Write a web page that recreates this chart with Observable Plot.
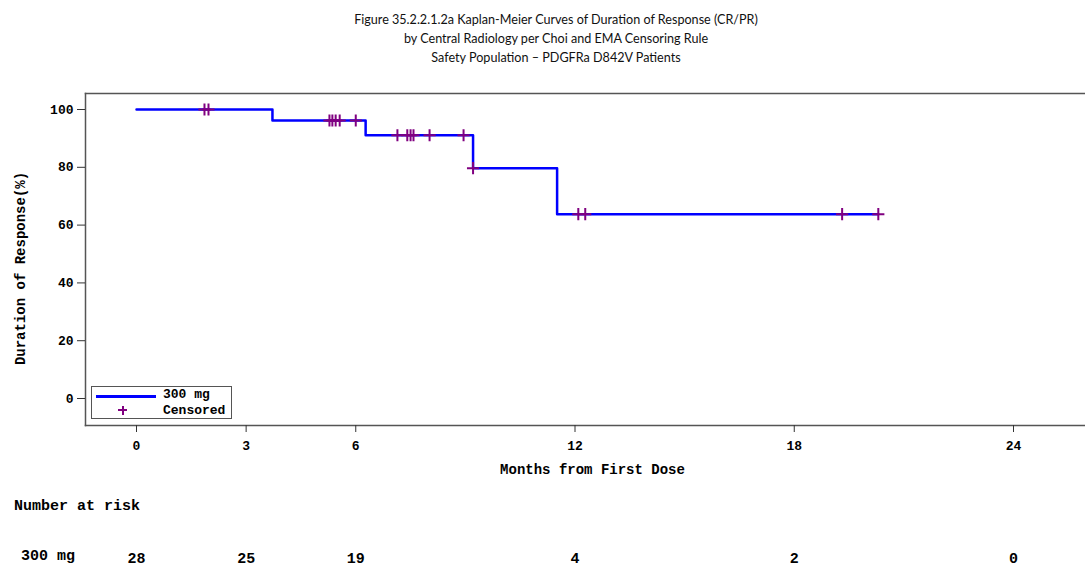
<!DOCTYPE html>
<html>
<head>
<meta charset="utf-8">
<script src="https://cdn.jsdelivr.net/npm/d3@7"></script>
<script src="https://cdn.jsdelivr.net/npm/@observablehq/plot@0.6"></script>
<style>
  body { margin: 0; background: #fff; width: 1085px; height: 567px; position: relative; }
  #title { height: 75px; box-sizing: border-box; padding-top: 9.5px; padding-left: 27px; text-align: center;
           font-family: Lato, "Open Sans", sans-serif; font-size: 12.6px; line-height: 19px; color: #111; }
  #chart svg { display: block; }
  .mono { font-family: "Liberation Mono", "DejaVu Sans Mono", monospace; font-weight: bold; color: #000; }
  #legend { position: absolute; left: 91px; top: 386px; width: 141px; height: 33px; box-sizing: border-box;
            border: 1px solid #555; background: #fff; font-size: 13px; line-height: 15px; }
  #legend .swatch { position: absolute; left: 4px; top: 7.5px; width: 60px; height: 3px; background: #0000ff; }
  #legend .plus { position: absolute; left: 26px; top: 18.5px; width: 9px; height: 9px;
                  background: linear-gradient(#800080, #800080) center / 2px 100% no-repeat,
                              linear-gradient(#800080, #800080) center / 100% 2px no-repeat; }
  #legend .t1 { position: absolute; left: 71px; top: 0px; }
  #legend .t2 { position: absolute; left: 71px; top: 15.5px; }
  #riskHead { position: absolute; left: 14px; top: 498px; font-size: 15px; line-height: 17px; }
  #riskRow { position: absolute; left: 21px; top: 550px; font-size: 15px; line-height: 14px; }
</style>
</head>
<body>
<div id="title"></div>
<div id="chart"></div>
<div id="legend" class="mono"><div class="swatch"></div><div class="plus"></div><div class="t1"></div><div class="t2"></div></div>
<div id="riskHead" class="mono"></div>
<div id="riskRow" class="mono"></div>
<script>
// Titles and labels
const titleLines = [
  "Figure 35.2.2.1.2a Kaplan-Meier Curves of Duration of Response (CR/PR)",
  "by Central Radiology per Choi and EMA Censoring Rule",
  "Safety Population \u2013 PDGFRa D842V Patients"
];
const seriesName = "300 mg";
const censorName = "Censored";
const xLabel = "Months from First Dose";
const yLabel = "Duration of Response(%)";
const riskTitle = "Number at risk";

// Kaplan-Meier step curve (months, % still in response)
const stepMonths   = [0, 3.72, 6.27, 9.21, 11.51, 20.30];
const stepSurvival = [100, 96.2, 91.1, 79.7, 63.8, 63.8];

// Censored observations
const censorMonths   = [1.86, 1.97, 5.28, 5.36, 5.45, 5.56, 6.00, 7.14, 7.41, 7.50, 7.58, 8.02, 8.95, 9.21, 12.09, 12.28, 19.31, 20.30];
const censorSurvival = [100, 100, 96.2, 96.2, 96.2, 96.2, 96.2, 91.1, 91.1, 91.1, 91.1, 91.1, 91.1, 79.7, 63.8, 63.8, 63.8, 63.8];

// Number at risk table
const riskMonths = [0, 3, 6, 12, 18, 24];
const riskCounts = [28, 25, 19, 4, 2, 0];

// Axis ticks
const xTicks = [0, 3, 6, 12, 18, 24];
const yTicks = [0, 20, 40, 60, 80, 100];

document.getElementById("title").innerHTML = titleLines.map(t => `<div>${t}</div>`).join("");
document.querySelector("#legend .t1").textContent = seriesName;
document.querySelector("#legend .t2").textContent = censorName;
document.getElementById("riskHead").textContent = riskTitle;
document.getElementById("riskRow").textContent = seriesName;

const curve = stepMonths.map((m, i) => ({month: m, survival: stepSurvival[i]}));
const censored = censorMonths.map((m, i) => ({month: m, survival: censorSurvival[i]}));
const atRisk = riskMonths.map((m, i) => ({month: m, n: riskCounts[i]}));

const frameStyle = {stroke: "#555", strokeWidth: 1.5};

const chart = Plot.plot({
  width: 1085,
  height: 492,
  marginTop: 18,
  marginBottom: 142,
  marginLeft: 85,
  marginRight: 0,
  style: {fontFamily: "'Liberation Mono', 'DejaVu Sans Mono', monospace", fontSize: "13px", fontWeight: "bold", color: "#000", background: "#fff", overflow: "visible"},
  x: {domain: [-1.396, 25.97]},
  y: {domain: [-9.34, 105.54]},
  marks: [
    Plot.frame({anchor: "top", ...frameStyle}),
    Plot.frame({anchor: "left", ...frameStyle}),
    Plot.frame({anchor: "bottom", ...frameStyle}),
    Plot.axisX({ticks: xTicks, tickSize: 7, tickPadding: 8, label: null, stroke: "#333"}),
    Plot.axisY({ticks: yTicks, tickSize: 8, tickPadding: 4, label: null, stroke: "#333"}),
    Plot.line(curve, {x: "month", y: "survival", curve: "step-after", stroke: "#0000ff", strokeWidth: 2.5}),
    Plot.dot(censored, {x: "month", y: "survival", symbol: "plus", r: 4, stroke: "#800080", strokeWidth: 2}),
    Plot.text(atRisk, {x: "month", text: "n", frameAnchor: "bottom", dy: 137, fontSize: 15}),
    Plot.text([xLabel], {text: d => d, frameAnchor: "bottom", dx: 7, dy: 48, fontSize: 14}),
    Plot.text([yLabel], {text: d => d, frameAnchor: "left", textAnchor: "middle", rotate: -90, dx: -65, dy: 9, fontSize: 14})
  ]
});
document.getElementById("chart").appendChild(chart);
</script>
</body>
</html>
